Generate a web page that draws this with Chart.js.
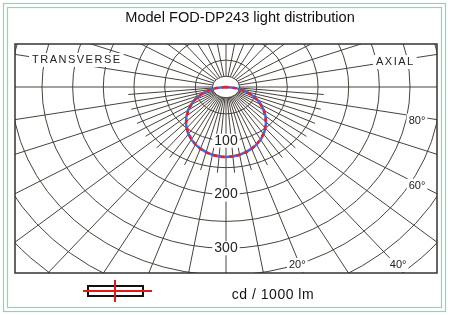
<!DOCTYPE html>
<html>
<head>
<meta charset="utf-8">
<script src="https://cdn.jsdelivr.net/npm/chart.js@4.4.1/dist/chart.umd.min.js"></script>
<style>
  html, body { margin: 0; padding: 0; background: #fff; }
  #wrap { width: 450px; height: 315px; }
</style>
</head>
<body>
<div id="wrap"><canvas id="lightChart" width="450" height="315"></canvas></div>
<script>
// luminous intensity in cd / 1000 lm, every 10 degrees
const angles = [0, 10, 20, 30, 40, 50, 60, 70, 80, 90];
const transverse = [130, 128, 122, 112, 99, 83, 65, 44, 22, 0];
const axial = [130, 128, 122, 113, 100, 84, 66, 45, 23, 0];

// grid of the diagram (circles every 50 cd, rays every 10 deg, 5 deg rays near the centre)
const gridRadii = [50, 100, 150, 200, 250, 300, 350, 400, 450, 500];
const rayAngles = [-170, -160, -150, -140, -130, -120, -110, -100, -90, -80, -70, -60, -50, -40, -30, -20, -10,
                   0, 10, 20, 30, 40, 50, 60, 70, 80, 90, 100, 110, 120, 130, 140, 150, 160, 170, 180];
const fineRayAngles = [-85, -75, -65, -55, -45, -35, -25, -15, -5, 5, 15, 25, 35, 45, 55, 65, 75, 85];
const radiusLabels = [100, 200, 300];
const angleLabels = [20, 40, 60, 80];

const title = "Model FOD-DP243 light distribution";
const unitText = "cd / 1000 lm";

const gridColor = "#48423c";
const fontFamily = "'Liberation Sans', Arial, sans-serif";

// polar (0 deg pointing down) -> x / y of the chart
function polar(r, deg) {
    var a = deg * Math.PI / 180;
    return {x: r * Math.sin(a), y: -r * Math.cos(a)};
}

// whole curve from -90 to 90 deg, mirrored around the vertical
function curvePoints(values) {
    var pts = [];
    for (var i = angles.length - 1; i > 0; i--) pts.push(polar(values[i], -angles[i]));
    for (var i = 0; i < angles.length; i++) pts.push(polar(values[i], angles[i]));
    return pts;
}

function labelBox(ctx, text, x, y, font) {
    ctx.font = font;
    var w = ctx.measureText(text).width;
    ctx.fillStyle = "#fff";
    ctx.fillRect(x - w / 2 - 2, y - 7, w + 4, 14);
    ctx.fillStyle = "#222";
    ctx.textAlign = "center";
    ctx.textBaseline = "middle";
    ctx.fillText(text, x, y);
}

const diagramPlugin = {
    id: "diagram",
    beforeDraw(chart) {
        var ctx = chart.ctx;
        ctx.save();
        ctx.fillStyle = "#fff";
        ctx.fillRect(0, 0, chart.width, chart.height);
        // double green border
        ctx.strokeStyle = "#86dca8";
        ctx.lineWidth = 1.2;
        ctx.strokeRect(3.5, 3.5, 442, 308);
        ctx.strokeRect(7.5, 7.5, 434, 300);
        ctx.restore();
    },
    beforeDatasetsDraw(chart) {
        var ctx = chart.ctx, area = chart.chartArea;
        var xs = chart.scales.x, ys = chart.scales.y;
        var ox = xs.getPixelForValue(0), oy = ys.getPixelForValue(0);
        var sx = xs.getPixelForValue(1) - ox, sy = oy - ys.getPixelForValue(1);

        ctx.save();
        ctx.beginPath();
        ctx.rect(area.left, area.top, area.right - area.left, area.bottom - area.top);
        ctx.clip();
        ctx.strokeStyle = gridColor;
        ctx.lineWidth = 1;

        gridRadii.forEach(function(r) {
            ctx.beginPath();
            ctx.ellipse(ox, oy, r * sx, r * sy, 0, 0, Math.PI * 2);
            ctx.stroke();
        });
        rayAngles.forEach(function(a) {
            var p = polar(700, a);
            ctx.beginPath();
            ctx.moveTo(ox, oy);
            ctx.lineTo(xs.getPixelForValue(p.x), ys.getPixelForValue(p.y));
            ctx.stroke();
        });
        fineRayAngles.forEach(function(a) {
            var p = polar(160, a);
            ctx.beginPath();
            ctx.moveTo(ox, oy);
            ctx.lineTo(xs.getPixelForValue(p.x), ys.getPixelForValue(p.y));
            ctx.stroke();
        });

        // white disc around the lamp position
        ctx.beginPath();
        ctx.ellipse(ox, oy, 22 * sx, 20 * sy, 0, 0, Math.PI * 2);
        ctx.fillStyle = "#fff";
        ctx.fill();
        ctx.stroke();

        // intensity labels on the vertical
        radiusLabels.forEach(function(r) {
            labelBox(ctx, String(r), ox, ys.getPixelForValue(-r), "14px " + fontFamily);
        });
        // angle labels where the rays meet the frame
        angleLabels.forEach(function(a) {
            var rad = a * Math.PI / 180;
            var lx, ly;
            var tBottom = (area.bottom - oy) / (Math.cos(rad) * sy);
            var tRight = (area.right - ox) / (Math.sin(rad) * sx);
            if (tBottom < tRight) {
                lx = ox + tBottom * Math.sin(rad) * sx - 6;
                ly = area.bottom - 8;
            } else {
                lx = area.right - 20;
                ly = oy + tRight * Math.cos(rad) * sy + (a > 70 ? 1 : -8);
            }
            labelBox(ctx, a + "\u00b0", lx, ly, "11px " + fontFamily);
        });

        // plane names
        ctx.font = "11px " + fontFamily;
        ctx.letterSpacing = "1.5px";
        ctx.textBaseline = "middle";
        ctx.textAlign = "left";
        [["TRANSVERSE", 32, 60], ["AXIAL", 376, 62]].forEach(function(t) {
            var w = ctx.measureText(t[0]).width;
            ctx.fillStyle = "#fff";
            ctx.fillRect(t[1] - 3, t[2] - 7, w + 5, 14);
            ctx.fillStyle = "#222";
            ctx.fillText(t[0], t[1], t[2]);
        });
        ctx.letterSpacing = "0px";
        ctx.restore();
    },
    afterDraw(chart) {
        var ctx = chart.ctx, area = chart.chartArea;
        ctx.save();
        // frame
        ctx.strokeStyle = "#333";
        ctx.lineWidth = 1.5;
        ctx.strokeRect(area.left, area.top, area.right - area.left, area.bottom - area.top);

        ctx.fillStyle = "#111";
        ctx.textAlign = "center";
        ctx.textBaseline = "middle";
        ctx.font = "14.6px " + fontFamily;
        ctx.fillText(title, 240, 18);
        ctx.font = "14px " + fontFamily;
        ctx.letterSpacing = "0.5px";
        ctx.fillText(unitText, 273, 295);
        ctx.letterSpacing = "0px";

        // luminaire symbol with its two planes
        ctx.strokeStyle = "#111";
        ctx.lineWidth = 2;
        ctx.strokeRect(88, 286, 55, 10);
        ctx.strokeStyle = "#e01818";
        ctx.beginPath();
        ctx.moveTo(83, 291); ctx.lineTo(152, 291);
        ctx.moveTo(115, 280); ctx.lineTo(115, 302);
        ctx.stroke();
        ctx.restore();
    }
};

new Chart(document.getElementById("lightChart"), {
    type: "scatter",
    data: {
        datasets: [{
            label: "Transverse",
            data: curvePoints(transverse),
            showLine: true,
            borderColor: "#e3222b",
            borderWidth: 2.5,
            borderDash: [4, 4],
            pointRadius: 0,
            tension: 0.4
        }, {
            label: "Axial",
            data: curvePoints(axial),
            showLine: true,
            borderColor: "#4768dc",
            borderWidth: 2.5,
            pointRadius: 0,
            tension: 0.4
        }]
    },
    options: {
        responsive: false,
        animation: false,
        devicePixelRatio: 1,
        layout: {padding: {left: 15, right: 13, top: 44, bottom: 42}},
        scales: {
            x: {type: "linear", min: -344, max: 344, display: false},
            y: {type: "linear", min: -346, max: 80, display: false}
        },
        plugins: {
            legend: {display: false},
            tooltip: {enabled: false}
        }
    },
    plugins: [diagramPlugin]
});
</script>
</body>
</html>
